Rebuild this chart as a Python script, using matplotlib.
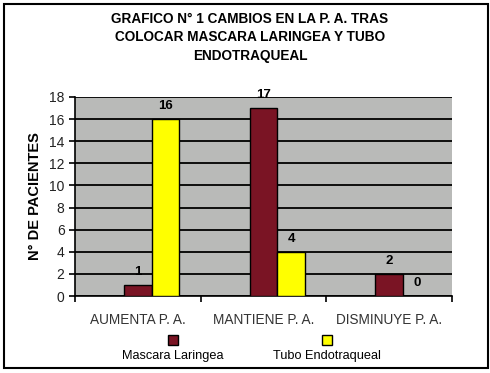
import matplotlib
matplotlib.use("Agg")
import matplotlib.pyplot as plt
from matplotlib.patches import Rectangle

categories = ["AUMENTA P. A.", "MANTIENE P. A.", "DISMINUYE P. A."]
mascara = [1, 17, 2]
tubo = [16, 4, 0]
series_names = ["Mascara Laringea", "Tubo Endotraqueal"]
yticks = [0, 2, 4, 6, 8, 10, 12, 14, 16, 18]
title = "GRAFICO N° 1 CAMBIOS EN LA P. A. TRAS\nCOLOCAR MASCARA LARINGEA Y TUBO\nENDOTRAQUEAL"
ylabel = "N° DE PACIENTES"

c_m = "#7a1424"
c_t = "#ffff00"

plt.rcParams['font.family'] = ['Liberation Sans', 'DejaVu Sans']
fig = plt.figure(figsize=(4.9, 3.73), dpi=100)
ax = fig.add_axes([75/490, 1-296/373, (452-75)/490, (296-97)/373])
ax.set_facecolor("#b9bab8")

w = 0.22
x = list(range(len(categories)))
ax.bar([i for i in x], mascara, width=w, color=c_m, edgecolor="black", linewidth=1.0, zorder=3)
ax.bar([i + w for i in x], tubo, width=w, color=c_t, edgecolor="black", linewidth=1.0, zorder=3)
for i in x:
    ax.annotate(str(mascara[i]), (i, mascara[i]), xytext=(0, 5), textcoords="offset points",
                ha="center", va="bottom", fontsize=9.5, fontweight="bold")
    ax.annotate(str(tubo[i]), (i + w, tubo[i]), xytext=(0, 5), textcoords="offset points",
                ha="center", va="bottom", fontsize=9.5, fontweight="bold")

ax.set_ylim(0, 18)
ax.set_xlim(-0.5, 2.5)
ax.set_yticks(yticks)
ax.tick_params(axis="y", labelsize=10, length=4, width=1.2, direction="out", colors="black", labelcolor="#222222")
ax.set_xticks([-0.5, 0.5, 1.5, 2.5])
ax.set_xticklabels([])
ax.set_xticks(x, minor=True)
ax.set_xticklabels(categories, minor=True, fontsize=9.8, color="#333333")
ax.tick_params(axis="x", which="minor", length=0, pad=12)
ax.tick_params(axis="x", which="major", length=4, width=1.2, direction="out")
ax.yaxis.grid(True, color="black", linewidth=1.3, zorder=1)
ax.set_axisbelow(True)
for s in ["top", "right"]:
    ax.spines[s].set_visible(False)
ax.spines["left"].set_linewidth(1.2)
ax.spines["bottom"].set_linewidth(1.2)
ax.set_ylabel(ylabel, fontsize=10.5, fontweight="bold", labelpad=5)

fig.text(0.51, 0.968, title, ha="center", va="top", fontsize=9.8, fontweight="bold", linespacing=1.4)

# legend
leg_x = [173/490, 327/490]
cols = [c_m, c_t]
for lx, col, name in zip(leg_x, cols, series_names):
    fig.patches.append(Rectangle((lx - 5/490, 1 - 345/373), 10/490, 10/373, transform=fig.transFigure,
                                 facecolor=col, edgecolor="black", linewidth=1.0))
    fig.text(lx, 1 - 356/373, name, ha="center", va="center", fontsize=9.2)

fig.patches.append(Rectangle((4/490, 1 - 368/373), 484/490, 364/373, transform=fig.transFigure,
                             facecolor="none", edgecolor="black", linewidth=1.5))

fig.savefig("out.png", dpi=100)
